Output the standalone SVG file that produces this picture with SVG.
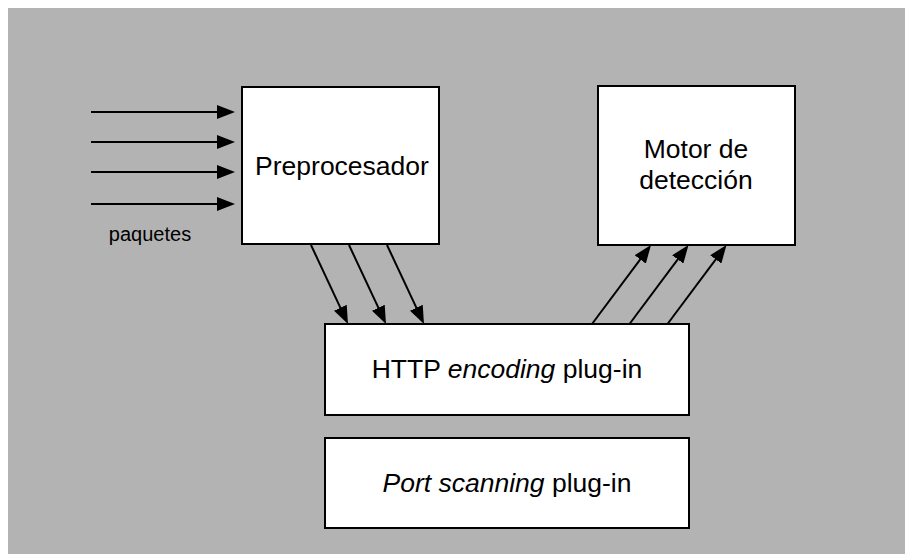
<svg xmlns="http://www.w3.org/2000/svg" width="905" height="554" viewBox="0 0 905 554">
<style>
.box{fill:#ffffff;stroke:#000000;stroke-width:2}
.t{font-family:"Liberation Sans",Arial,sans-serif;font-size:26.5px;fill:#000000;text-anchor:middle}
.s{font-family:"Liberation Sans",Arial,sans-serif;font-size:20px;fill:#000000;text-anchor:middle}
.c{stroke:#000000;stroke-width:2;fill:none;marker-end:url(#ah)}
</style>
<defs>
<marker id="ah" markerUnits="userSpaceOnUse" markerWidth="18" markerHeight="14" refX="14" refY="7" orient="auto">
<path d="M0,0 L18,7 L0,14 Z" fill="#000000"/>
</marker>
</defs>
<rect x="0" y="0" width="905" height="554" fill="#ffffff"/>
<rect x="8" y="8" width="897" height="546" fill="#b3b3b3"/>
<g id="connectors">
<line class="c" x1="91" y1="112" x2="231" y2="112"/>
<line class="c" x1="91" y1="142" x2="231" y2="142"/>
<line class="c" x1="91" y1="172" x2="231" y2="172"/>
<line class="c" x1="91" y1="204" x2="231" y2="204"/>
<line class="c" x1="311" y1="245" x2="346.3" y2="320.4"/>
<line class="c" x1="349" y1="245" x2="384.3" y2="320.4"/>
<line class="c" x1="387" y1="245" x2="422.3" y2="320.4"/>
<line class="c" x1="592" y1="324" x2="648.6" y2="248.2"/>
<line class="c" x1="629.5" y1="324" x2="686.1" y2="248.2"/>
<line class="c" x1="667.5" y1="324" x2="724.1" y2="248.2"/>
</g>
<g id="paquetes">
<text class="s" x="150" y="241">paquetes</text>
</g>
<g id="preprocesador">
<rect class="box" x="242" y="87" width="197" height="157"/>
<text class="t" x="342" y="175">Preprocesador</text>
</g>
<g id="motor">
<rect class="box" x="598" y="86" width="197" height="159"/>
<text class="t" x="696" y="158">Motor de</text>
<text class="t" x="696" y="189">detección</text>
</g>
<g id="http">
<rect class="box" x="325" y="324" width="364" height="91"/>
<text class="t" x="507" y="378">HTTP <tspan font-style="italic">encoding</tspan> plug-in</text>
</g>
<g id="portscan">
<rect class="box" x="325" y="438" width="364" height="90"/>
<text class="t" x="507" y="492"><tspan font-style="italic">Port scanning</tspan> plug-in</text>
</g>
</svg>
